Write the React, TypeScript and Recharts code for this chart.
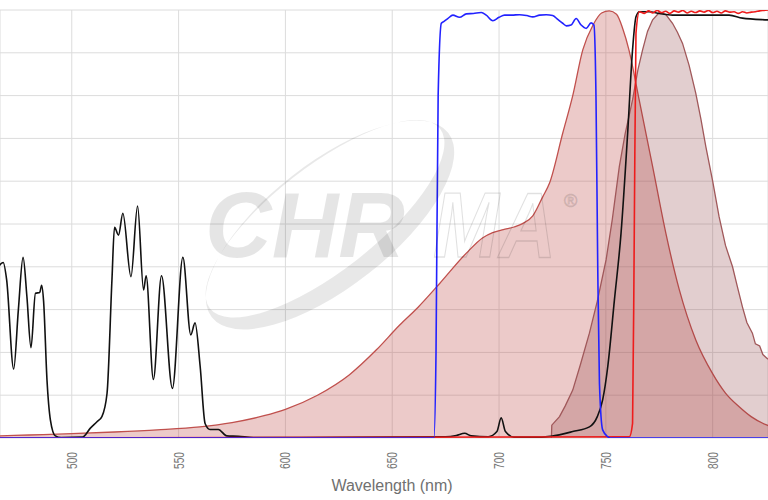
import React from 'react';
import { ComposedChart, Area, Line, XAxis, YAxis, CartesianGrid } from 'recharts';

// ---------- data (wavelength nm, percent) ----------
const xTicks = [500, 550, 600, 650, 700, 750, 800];
const yTicks = [0, 10, 20, 30, 40, 50, 60, 70, 80, 90, 100];
const xDomain: [number, number] = [466.4, 825.9];

const excitationSpectrum = [
  [460, 0.4], [466.6, 0.5], [480, 0.7], [500, 1], [520, 1.4], [540, 1.9], [560, 2.6], [575, 3.6],
  [590, 5.2], [600, 6.7], [615, 10], [630, 14.8], [642.6, 20.6], [653.5, 26.4], [662, 30.5],
  [672.2, 36.1], [684.7, 43.2], [692.4, 46.8], [697, 48], [702, 48.7], [707, 49.3], [711, 50.1],
  [715.8, 51.9], [720.5, 56.4], [723.6, 59.5], [729.8, 71.2], [734.5, 80], [739.2, 90.7],
  [744, 96.5], [748, 99.3], [751.6, 99.8], [755, 99], [758, 95.5], [760.8, 90.7], [765.6, 79],
  [771.9, 63.4], [778.1, 47.8], [784.4, 34.6], [792.1, 22.9], [799.9, 15.1], [806, 10.5], [812.4, 7.3],
  [818, 5], [825.5, 3], [830, 2.3],
];

const emissionSpectrum = [
  [724.5, 0], [724.7, 3], [728.3, 5], [731, 7.5], [734.5, 11.2], [738, 17], [742.3, 24.5], [746, 32],
  [750.1, 41.6], [753, 51], [756.3, 63.4], [759, 71], [762.5, 79], [765, 86], [767.2, 90.7], [769.5, 95],
  [771.9, 97.7], [775, 99.4], [778, 99], [781.2, 96.9], [783.5, 94.8], [785.9, 92.2], [789, 87],
  [792.1, 80.5], [794.5, 74.5], [796.8, 68.1], [800, 60], [803, 51.7], [806, 45], [809.3, 40],
  [811.5, 35.5], [813.9, 30.7], [816, 27], [818.6, 24.5], [820, 22], [822, 21.5], [823.5, 19.5],
  [825.5, 18.6], [830, 17],
];

const dichroicCurve = [
  [462, 36], [465, 39.5], [467.9, 41], [469.5, 37], [472.8, 16.1], [475, 30], [477.2, 42.2], [479, 33],
  [480.9, 21.1], [483, 33.8], [485, 34], [485.9, 35.7], [486.8, 32], [488.4, 13.5], [490, 4.2],
  [492.3, 0.5], [495, 0.1], [505, 0.2], [508.7, 2.3], [511.8, 3.8], [514.1, 5], [516.5, 10.4],
  [518.8, 36.9], [520, 49.2], [521.9, 47.4], [523.9, 52.5], [527.7, 37.7], [530.8, 54.2], [533.6, 34.6],
  [534.8, 37.9], [538.2, 13.7], [542, 37.9], [547.1, 11.6], [552, 42.2], [555.7, 24.1], [557.7, 26.9],
  [560.1, 16.7], [562.4, 3.4], [564.7, 2], [568.6, 2], [572.5, 0.5], [578, 0.4], [585, 0.1], [650, 0.2],
  [675, 0.3], [680, 0.6], [683.9, 1.1], [687, 0.5], [695, 0.3], [699, 1.5], [701, 4.7], [703, 1.5],
  [707, 0.2], [720, 0.2], [724.4, 0.4], [734.5, 1.5], [742.3, 2.6], [746, 5], [748.5, 8.9], [750.9, 16.7],
  [754, 32.2], [757.1, 47.8], [760.2, 71.2], [762.5, 90.7], [764.1, 98.4], [765.7, 99.6], [770.3, 99.6],
  [775, 99.2], [781.2, 98.8], [807.7, 98.8], [813.9, 98.1], [825.5, 97.7], [830, 97.6],
];

const exciterFilter = [
  [460, 0], [669.5, 0], [670.5, 20], [671.5, 80], [673, 96.9], [674.1, 97.3], [676, 98], [678.4, 98.8],
  [681.5, 98.3], [684.7, 99.1], [688, 99.2], [691.7, 99.4], [694, 98.8], [697.1, 97.5], [700, 98.3],
  [702.6, 98.8], [706, 98.8], [709.6, 98.9], [713, 98.7], [715.8, 98.4], [719, 98.8], [722.1, 98.9],
  [725.1, 98.7], [727.5, 97.8], [729.8, 96.9], [731.5, 96.3], [733.7, 96.5], [736.1, 98], [738.4, 96.5],
  [740.8, 95.7], [743.1, 97], [744.4, 96.5], [745.4, 79], [746.2, 40], [747, 12.8], [748.5, 1.9],
  [750.9, 0.3], [752, 0], [830, 0],
];

const emitterFilter = [
  [460, 0], [761, 0.3], [762.5, 3.4], [763.3, 47.8], [764.1, 94.6], [765.7, 99.6], [768, 99.2],
  [770, 99.8], [772, 99.3], [774, 99.9], [776, 99.4], [778, 99.7], [780, 99.2], [782, 99.8], [784, 99.5],
  [786, 99.9], [788, 99.3], [790, 99.7], [792, 99.4], [794, 99.8], [796, 99.5], [798, 99.9], [800, 99.4],
  [802, 99.7], [804, 99.3], [806, 99.8], [808, 99.5], [810, 99.6], [812, 99.2], [814, 99.6], [816, 99.3],
  [818, 99.5], [820, 99.6], [822, 99.8], [824, 99.9], [826, 100], [830, 100],
];

const toPts = (arr: number[][]) => arr.map(([nm, v]) => ({ nm, v }));

// ---------- helpers ----------
const FONT = "Arial, 'Liberation Sans', sans-serif";

const RotTick = (props: any) => {
  const { x, y, payload } = props;
  return (
    <text
      x={0}
      y={0}
      transform={`translate(${x},${y + 6}) rotate(-90)`}
      textAnchor="end"
      dominantBaseline="central"
      fontSize={14}
      fill="#777"
      fontFamily={FONT}
      textLength={17}
      lengthAdjust="spacingAndGlyphs"
    >
      {payload.value}
    </text>
  );
};

const ellipsePath = (cx: number, cy: number, rx: number, ry: number, deg: number) => {
  const t = (deg * Math.PI) / 180;
  const x1 = cx + rx * Math.cos(t);
  const y1 = cy + rx * Math.sin(t);
  const x2 = cx - rx * Math.cos(t);
  const y2 = cy - rx * Math.sin(t);
  return `M${x1},${y1} A${rx},${ry} ${deg} 0 1 ${x2},${y2} A${rx},${ry} ${deg} 0 1 ${x1},${y1} Z `;
};

const Watermark = () => (
  <svg width={768} height={500} style={{ position: 'absolute', left: 0, top: 0, pointerEvents: 'none' }}>
    <path
      fillRule="evenodd"
      fill="rgba(0,0,0,0.09)"
      d={ellipsePath(330, 225, 150, 62, -38) + ellipsePath(325, 218.7, 146, 52, -38)}
    />
    <text
      x={205}
      y={257}
      fontSize={92}
      fontWeight="bold"
      fontStyle="italic"
      fontFamily={FONT}
      fill="rgba(0,0,0,0.1)"
      textLength={200}
      lengthAdjust="spacingAndGlyphs"
    >
      CHR
    </text>
    <text
      x={0}
      y={0}
      transform="translate(433,257) scale(1.2,1.4)"
      fontSize={66}
      fontWeight="bold"
      fontStyle="italic"
      fontFamily={FONT}
      fill="none"
      stroke="rgba(0,0,0,0.12)"
      strokeWidth={0.9}
    >
      MA
    </text>
    <text x={564} y={207} fontSize={18} fontFamily={FONT} fill="none" stroke="rgba(0,0,0,0.12)" strokeWidth={1}>
      ®
    </text>
  </svg>
);

export default function App() {
  return (
    <div style={{ position: 'absolute', left: 0, top: 0, width: 768, height: 500, background: '#fff' }}>
      <ComposedChart width={768} height={500} margin={{ top: 10, right: 0, left: 0, bottom: 0 }}>
        <CartesianGrid stroke="#dcdcdc" strokeWidth={1} />
        <XAxis
          type="number"
          dataKey="nm"
          domain={xDomain}
          allowDataOverflow
          ticks={xTicks}
          interval={0}
          axisLine={false}
          tickLine={false}
          height={62}
          tick={<RotTick />}
          label={{
            value: 'Wavelength (nm)',
            position: 'insideBottom',
            offset: 9,
            dx: 8,
            fill: '#707070',
            fontSize: 16,
            fontFamily: FONT,
          }}
        />
        <YAxis type="number" hide domain={[0, 100]} ticks={yTicks} allowDataOverflow />
        <Area
          data={toPts(excitationSpectrum)}
          dataKey="v"
          type="monotone"
          stroke="#c0504d"
          strokeWidth={1.3}
          fill="#c0504d"
          fillOpacity={0.3}
          isAnimationActive={false}
          dot={false}
          activeDot={false}
        />
        <Area
          data={toPts(emissionSpectrum)}
          dataKey="v"
          type="linear"
          stroke="#a0585a"
          strokeWidth={1.3}
          fill="#8b3a3f"
          fillOpacity={0.25}
          isAnimationActive={false}
          dot={false}
          activeDot={false}
        />
        <Line
          data={toPts(dichroicCurve)}
          dataKey="v"
          type="monotone"
          stroke="#111"
          strokeWidth={1.6}
          dot={false}
          activeDot={false}
          isAnimationActive={false}
        />
        <Line
          data={toPts(emitterFilter)}
          dataKey="v"
          type="monotone"
          stroke="#ee1c1c"
          strokeWidth={1.6}
          dot={false}
          activeDot={false}
          isAnimationActive={false}
        />
        <Line
          data={toPts(exciterFilter)}
          dataKey="v"
          type="monotone"
          stroke="#2222ff"
          strokeWidth={1.6}
          dot={false}
          activeDot={false}
          isAnimationActive={false}
        />
      </ComposedChart>
      <Watermark />
    </div>
  );
}
